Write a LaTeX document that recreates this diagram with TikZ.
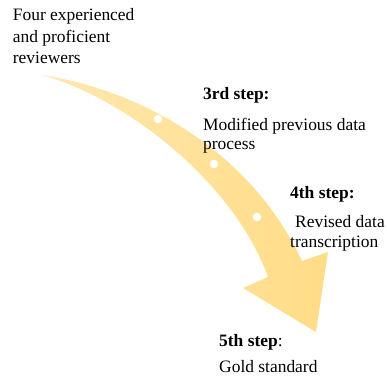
\documentclass[tikz,border=0pt]{standalone}
\usepackage{fontspec}
\setmainfont{Liberation Serif}
\definecolor{arrowHead}{HTML}{FFDC86}
\definecolor{arrowTail}{HTML}{FFE8B0}
\begin{document}
\begin{tikzpicture}[x=1bp,y=-1bp,
  txt/.style={anchor=base west,inner sep=0pt,font=\fontsize{17.5}{21}\selectfont,text=black},
  dot/.style={circle,fill=white,draw=none,minimum size=8.5bp,inner sep=0pt}]
\useasboundingbox (0,0) rectangle (387,379);
% curved arrow
\coordinate (tail) at (42,75);
\coordinate (inR) at (302,261);
\coordinate (outR) at (328,252);
\coordinate (tip) at (316,332);
\coordinate (outL) at (243,288);
\coordinate (inL) at (268,277);
\path[left color=arrowTail,right color=arrowHead,draw=none]
  (tail) .. controls (140,90) and (250,150) .. (inR)
  -- (outR) -- (tip) -- (outL) -- (inL)
  .. controls (235,185) and (130,100) .. (tail) -- cycle;
\node[dot] (d1) at (158,119) {};
\node[dot] (d2) at (214,164) {};
\node[dot] (d3) at (257,217) {};
% texts
\node[txt] (t1a) at (12.7,20.7) {Four experienced};
\node[txt] (t1b) at (12.7,42) {and proficient};
\node[txt] (t1c) at (12.7,63.3) {reviewers};
\node[txt] (t3a) at (203,99) {\bfseries 3rd step:};
\node[txt] (t3b) at (203,130) {Modified previous data};
\node[txt] (t3c) at (203,149) {process};
\node[txt] (t4a) at (290,198) {\bfseries 4th step:};
\node[txt] (t4b) at (295,227) {Revised data};
\node[txt] (t4c) at (290,247) {transcription};
\node[txt] (t5a) at (219,346) {\textbf{5th step}:};
\node[txt] (t5b) at (219,372) {Gold standard};
\end{tikzpicture}
\end{document}
